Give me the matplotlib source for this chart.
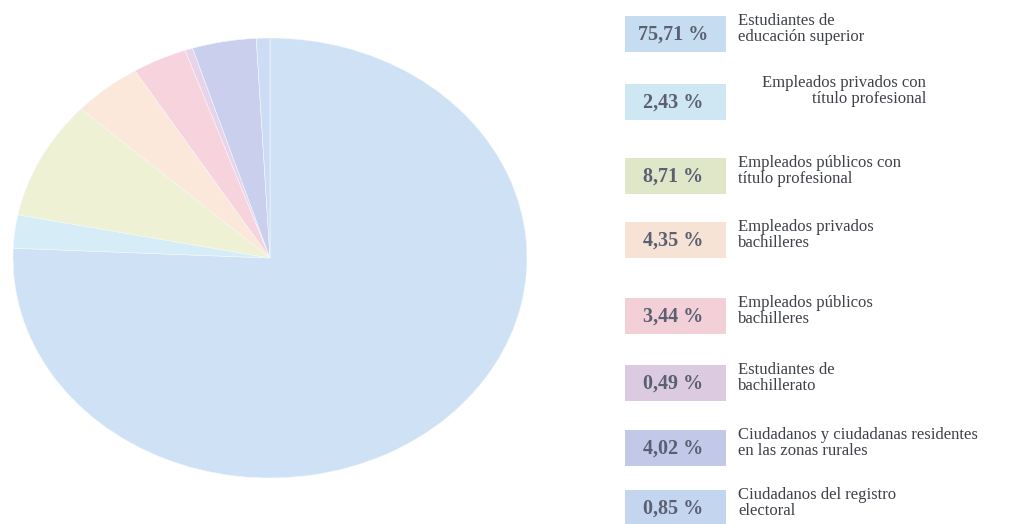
import matplotlib
matplotlib.use("Agg")
import matplotlib.pyplot as plt
from matplotlib.patches import Rectangle

# ---- data ----
values = [75.71, 2.43, 8.71, 4.35, 3.44, 0.49, 4.02, 0.85]
pct_labels = ["75,71 %", "2,43 %", "8,71 %", "4,35 %", "3,44 %", "0,49 %", "4,02 %", "0,85 %"]
categories = [
    "Estudiantes de\neducación superior",
    "Empleados privados con\ntítulo profesional",
    "Empleados públicos con\ntítulo profesional",
    "Empleados privados\nbachilleres",
    "Empleados públicos\nbachilleres",
    "Estudiantes de\nbachillerato",
    "Ciudadanos y ciudadanas residentes\nen las zonas rurales",
    "Ciudadanos del registro\nelectoral",
]
pie_colors = ["#cfe1f4", "#d6ecf6", "#eef1d4", "#fce8da", "#f7d3de", "#e8d3ea", "#cacfee", "#cddcf5"]
box_colors = ["#c6dcf0", "#cfe6f3", "#e0e6c8", "#f7e3d5", "#f3cfd8", "#dccbe0", "#c2c8e8", "#c4d5f0"]

W, H = 1010, 524
fig = plt.figure(figsize=(W / 100, H / 100), dpi=100)

# pie (stretched ellipse, like the reference)
ax = fig.add_axes([13 / W, (H - 478) / H, 514 / W, 440 / H])
ax.pie(values, colors=pie_colors, startangle=90, counterclock=False,
       wedgeprops=dict(edgecolor="#f4f8fc", linewidth=0.4))
ax.set_aspect("auto")
ax.set_xlim(-1, 1)
ax.set_ylim(-1, 1)
ax.axis("off")

# legend drawn in pixel coordinates
lg = fig.add_axes([0, 0, 1, 1])
lg.set_xlim(0, W)
lg.set_ylim(H, 0)
lg.axis("off")

box_centers = [34, 102, 176, 240, 316, 383, 448, 508]
box_x, box_w, box_h = 625, 101, 36
label_x = 738
for i, (pct, cat) in enumerate(zip(pct_labels, categories)):
    yc = box_centers[i]
    lg.add_patch(Rectangle((box_x, yc - box_h / 2), box_w, box_h,
                           facecolor=box_colors[i], edgecolor="none"))
    lg.text(box_x + box_w / 2 - 2, yc + 1, pct, ha="center", va="center",
            family="Liberation Serif", weight="bold", fontsize=14.5, color="#5a6072")
    if i == 1:
        lg.text(926, yc - 11, cat, ha="right", va="center", multialignment="right",
                family="Liberation Serif", fontsize=12, color="#3f414a", linespacing=1.0)
    else:
        lg.text(label_x, yc - 5, cat, ha="left", va="center",
                family="Liberation Serif", fontsize=12, color="#3f414a", linespacing=1.0)

fig.savefig("out.png", dpi=100, facecolor="white")
